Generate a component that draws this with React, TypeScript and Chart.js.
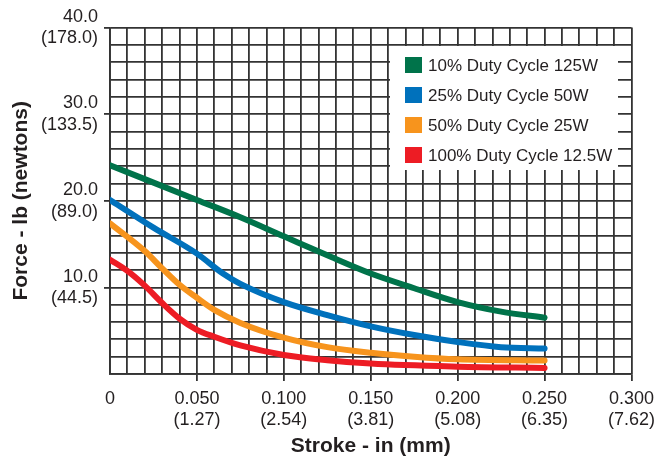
import React, { useEffect, useRef } from 'react';
import { Chart, registerables } from 'chart.js';

Chart.register(...registerables);

const FONT = '"Liberation Sans", Arial, Helvetica, sans-serif';
const TEXT = '#231f20';
const GRID = '#333333';

const seriesNames = [
  '10% Duty Cycle 125W',
  '25% Duty Cycle 50W',
  '50% Duty Cycle 25W',
  '100% Duty Cycle 12.5W',
];
const seriesColors = ['#00734a', '#0071bc', '#f7941d', '#ed1c24'];

const strokeGreen = [0, 0.02, 0.05, 0.075, 0.1, 0.125, 0.15, 0.175, 0.2, 0.225, 0.25];
const forceGreen = [24.1, 22.5, 20.1, 18.1, 15.9, 13.7, 11.6, 9.9, 8.3, 7.2, 6.5];

const strokeBlue = [0, 0.025, 0.05, 0.065, 0.075, 0.1, 0.125, 0.15, 0.175, 0.2, 0.225, 0.25];
const forceBlue = [20.1, 16.9, 13.9, 11.6, 10.4, 8.3, 6.8, 5.5, 4.5, 3.7, 3.1, 2.95];

const strokeOrange = [0, 0.02, 0.03, 0.04, 0.05, 0.06, 0.075, 0.1, 0.125, 0.15, 0.175, 0.2, 0.25];
const forceOrange = [17.4, 14.2, 12.2, 10.3, 8.8, 7.4, 5.9, 4.2, 3.1, 2.45, 2.0, 1.7, 1.55];

const strokeRed = [0, 0.01, 0.02, 0.03, 0.04, 0.05, 0.06, 0.075, 0.1, 0.125, 0.15, 0.2, 0.25];
const forceRed = [13.2, 11.9, 10.2, 8.2, 6.4, 5.1, 4.3, 3.3, 2.2, 1.6, 1.2, 0.85, 0.7];

const seriesStroke = [strokeGreen, strokeBlue, strokeOrange, strokeRed];
const seriesForce = [forceGreen, forceBlue, forceOrange, forceRed];

const xTickLabels: string[][] = [
  ['0'],
  ['0.050', '(1.27)'],
  ['0.100', '(2.54)'],
  ['0.150', '(3.81)'],
  ['0.200', '(5.08)'],
  ['0.250', '(6.35)'],
  ['0.300', '(7.62)'],
];
const yMajorValues = [10, 20, 30, 40];
const yTickLabels: string[][] = [
  ['10.0', '(44.5)'],
  ['20.0', '(89.0)'],
  ['30.0', '(133.5)'],
  ['40.0', '(178.0)'],
];

const legendPlugin = {
  id: 'boxLegend',
  afterDraw(chart: any) {
    const ctx = chart.ctx as CanvasRenderingContext2D;
    ctx.save();
    ctx.fillStyle = '#ffffff';
    ctx.fillRect(390, 46, 228, 124);
    ctx.font = `17px ${FONT}`;
    ctx.textBaseline = 'middle';
    ctx.textAlign = 'left';
    chart.data.datasets.forEach((ds: any, i: number) => {
      const cy = 65 + i * 30;
      ctx.fillStyle = ds.borderColor;
      ctx.fillRect(405, cy - 8, 17, 16);
      ctx.fillStyle = TEXT;
      ctx.fillText(ds.label, 428, cy + 1);
    });
    ctx.restore();
  },
};

export default function App() {
  const canvasRef = useRef<HTMLCanvasElement | null>(null);

  useEffect(() => {
    if (!canvasRef.current) return;
    Chart.defaults.font.family = FONT;
    const datasets = seriesNames.map((name, i) => ({
      label: name,
      data: seriesStroke[i].map((x, j) => ({ x, y: seriesForce[i][j] })),
      borderColor: seriesColors[i],
      backgroundColor: seriesColors[i],
      borderWidth: 6,
      borderCapStyle: 'round' as const,
      borderJoinStyle: 'round' as const,
      pointRadius: 0,
      pointHoverRadius: 0,
      cubicInterpolationMode: 'monotone' as const,
      fill: false,
    }));

    const chart = new Chart(canvasRef.current, {
      type: 'line',
      data: { datasets },
      plugins: [legendPlugin],
      options: {
        animation: false,
        responsive: false,
        layout: { padding: { top: 26, right: 26, left: 0, bottom: 0 } },
        plugins: {
          legend: { display: false },
          tooltip: { enabled: false },
        },
        scales: {
          x: {
            type: 'linear',
            min: 0,
            max: 0.3,
            afterFit: (scale: any) => {
              scale.height = 87;
            },
            ticks: {
              stepSize: 0.01,
              autoSkip: false,
              maxRotation: 0,
              minRotation: 0,
              padding: 7,
              color: TEXT,
              font: { size: 18, family: FONT },
              callback: (_v: any, index: number) =>
                index % 5 === 0 ? xTickLabels[index / 5] : '',
            },
            grid: {
              color: GRID,
              lineWidth: 1.8,
              tickLength: 7,
              tickColor: (ctx: any) =>
                ctx.index % 5 === 0 && ctx.index > 0 ? GRID : 'rgba(0,0,0,0)',
            },
            border: { color: GRID, width: 1.8 },
            title: {
              display: true,
              text: 'Stroke - in (mm)',
              color: TEXT,
              font: { size: 21, weight: 'bold', family: FONT },
              padding: { top: 0, bottom: 2 },
            },
          },
          y: {
            type: 'linear',
            min: 0,
            max: 40,
            afterFit: (scale: any) => {
              scale.width = 110;
            },
            ticks: {
              stepSize: 2,
              autoSkip: false,
              padding: 6,
              color: TEXT,
              font: { size: 18, family: FONT },
              callback: (v: any) => {
                const k = yMajorValues.indexOf(Math.round(Number(v)));
                return k >= 0 ? yTickLabels[k] : '';
              },
            },
            grid: {
              color: GRID,
              lineWidth: 1.8,
              tickLength: 6,
              tickColor: (ctx: any) =>
                ctx.tick && yMajorValues.indexOf(Math.round(ctx.tick.value)) >= 0
                  ? GRID
                  : 'rgba(0,0,0,0)',
            },
            border: { color: GRID, width: 1.8 },
            title: {
              display: true,
              text: 'Force - lb (newtons)',
              color: TEXT,
              font: { size: 21, weight: 'bold', family: FONT },
              padding: { top: 9, bottom: 0 },
            },
          },
        },
      },
    });
    return () => chart.destroy();
  }, []);

  return (
    <div style={{ position: 'absolute', left: 0, top: 0, width: 662, height: 461, background: '#fff' }}>
      <canvas ref={canvasRef} width={662} height={461} style={{ display: 'block' }} />
    </div>
  );
}
